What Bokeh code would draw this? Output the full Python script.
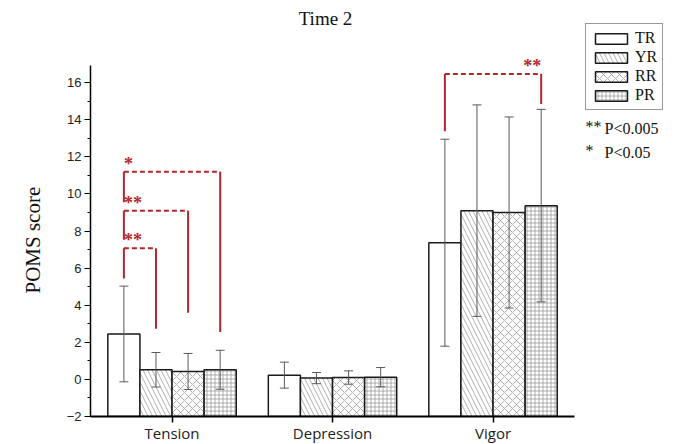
import numpy as np
from bokeh.plotting import figure
from bokeh.models import (ColumnDataSource, Range1d, FixedTicker, Title,
                          Whisker, TeeHead, Legend, LegendItem, LabelSet, Label)
from bokeh.embed import file_html
from bokeh.resources import INLINE

# ---------------- data ----------------
title_text = "Time 2"
y_label = "POMS score"
categories = ["Tension", "Depression", "Vigor"]
groups = ["TR", "YR", "RR", "PR"]

tr_mean = [2.45, 0.23, 7.37]
yr_mean = [0.52, 0.07, 9.10]
rr_mean = [0.43, 0.10, 9.00]
pr_mean = [0.52, 0.12, 9.37]

tr_sd = [2.58, 0.70, 5.58]
yr_sd = [0.93, 0.30, 5.70]
rr_sd = [0.97, 0.36, 5.15]
pr_sd = [1.05, 0.52, 5.19]

y_ticks = [-2, 0, 2, 4, 6, 8, 10, 12, 14, 16]

# significance brackets (category, from group, to group, heights)
sig_category = ["Tension", "Tension", "Tension", "Vigor"]
sig_from = ["TR", "TR", "TR", "TR"]
sig_to = ["YR", "RR", "PR", "PR"]
sig_left_low = [5.44, 7.53, 9.55, 13.38]
sig_top = [7.07, 9.10, 11.20, 16.47]
sig_right_low = [2.73, 3.59, 2.55, 14.85]
sig_mark = ["**", "**", "*", "**"]
sig_mark_side = ["left", "left", "left", "right"]

note_marks = ["**", "*"]
note_texts = ["P<0.005", "P<0.05"]

# ---------------- styling ----------------
means = [tr_mean, yr_mean, rr_mean, pr_mean]
sds = [tr_sd, yr_sd, rr_sd, pr_sd]
offsets = [-0.3, -0.1, 0.1, 0.3]
bar_w = 0.2
hatches = [None, "\\", "x", "+"]
hatch_scales = [9, 9, 8, 4]
RED = "#b3262c"
SERIF = "Liberation Serif"
Y_TOP = 16.93
X_AXIS_END = 2.51

p = figure(frame_width=579, frame_height=416, output_backend="svg", toolbar_location=None,
           x_range=Range1d(-0.508, 3.0995), y_range=Range1d(-2, 20.43),
           min_border_left=90, min_border_right=8, min_border_top=0, min_border_bottom=28)
p.outline_line_color = None
p.xgrid.visible = False
p.ygrid.visible = False

p.add_layout(Label(x=235, y=398, x_units="screen", y_units="screen", text=title_text,
                   text_font=SERIF, text_font_size="19px", text_align="center",
                   text_baseline="middle", text_color="#111111"))

cat_idx = np.arange(len(categories))
bar_renderers = []
for g, m, s, off, h, hs in zip(groups, means, sds, offsets, hatches, hatch_scales):
    m = np.array(m)
    s = np.array(s)
    src = ColumnDataSource(dict(x=cat_idx + off, top=m, upper=m + s, lower=m - s))
    kw = dict(fill_color="white", line_color="#1a1a1a", line_width=1.5)
    if h is not None:
        kw.update(hatch_pattern=h, hatch_color="#9a9a9a", hatch_scale=hs, hatch_weight=0.8)
    r = p.vbar(x="x", top="top", bottom=-2, width=bar_w, source=src, **kw)
    bar_renderers.append(r)
    w = Whisker(base="x", upper="upper", lower="lower", source=src,
                line_color="#5a5a5a", line_width=1, level="overlay")
    w.upper_head = TeeHead(size=9, line_color="#5a5a5a", line_width=1)
    w.lower_head = TeeHead(size=9, line_color="#5a5a5a", line_width=1)
    p.add_layout(w)

# brackets
gpos = {g: o for g, o in zip(groups, offsets)}
cpos = {c: i for i, c in enumerate(categories)}
xl = [cpos[c] + gpos[a] for c, a in zip(sig_category, sig_from)]
xr = [cpos[c] + gpos[b] for c, b in zip(sig_category, sig_to)]
bsrc = ColumnDataSource(dict(xl=xl, xr=xr, ll=sig_left_low, top=sig_top, rl=sig_right_low))
p.segment(x0="xl", y0="ll", x1="xl", y1="top", source=bsrc, line_color=RED, line_width=2)
p.segment(x0="xr", y0="rl", x1="xr", y1="top", source=bsrc, line_color=RED, line_width=2)
p.segment(x0="xl", y0="top", x1="xr", y1="top", source=bsrc, line_color=RED, line_width=2,
          line_dash="5 3")

mx = [a if side == "left" else b for a, b, side in zip(xl, xr, sig_mark_side)]
msrc = ColumnDataSource(dict(x=mx, y=sig_top, t=sig_mark, align=sig_mark_side))
marks = LabelSet(x="x", y="y", text="t", source=msrc, text_align="align", text_baseline="bottom",
                 y_offset=-2, text_color=RED, text_font=SERIF, text_font_size="18px",
                 text_font_style="bold")
p.add_layout(marks)

# axes
p.xaxis.bounds = (-0.508, X_AXIS_END)
p.xaxis.ticker = FixedTicker(ticks=list(cat_idx))
p.xaxis.major_label_overrides = {i: c for i, c in enumerate(categories)}
p.xaxis.minor_tick_line_color = None
p.xaxis.major_tick_out = 6
p.xaxis.major_tick_in = 0
p.xaxis.axis_line_width = 2
p.xaxis.major_tick_line_width = 1.5
p.xaxis.major_label_text_font = "Open Sans"
p.xaxis.major_label_text_font_size = "15px"
p.xaxis.major_label_text_color = "#222222"
p.xaxis.major_label_standoff = 0

p.yaxis.bounds = (-2, Y_TOP)
p.yaxis.ticker = FixedTicker(ticks=y_ticks, minor_ticks=list(range(-2, 17)))
p.yaxis.major_tick_out = 6
p.yaxis.major_tick_in = 0
p.yaxis.minor_tick_out = 3
p.yaxis.minor_tick_in = 0
p.yaxis.axis_line_width = 1.5
p.yaxis.major_label_text_font = "Liberation Sans"
p.yaxis.major_label_text_font_size = "13px"
p.yaxis.major_label_text_color = "#222222"
p.yaxis.major_label_standoff = 3

ytitle = Title(text=y_label, align="left", offset=123, standoff=37,
               text_font=SERIF, text_font_size="21px", text_font_style="normal",
               text_color="#111111")
p.add_layout(ytitle, "left")

# legend
legend = Legend(items=[LegendItem(label=g, renderers=[r]) for g, r in zip(groups, bar_renderers)],
                location=(495, 306), orientation="vertical",
                border_line_color="#333333", border_line_width=1,
                background_fill_color="white", background_fill_alpha=1,
                label_text_font=SERIF, label_text_font_size="16px", label_text_color="#111111",
                glyph_width=40, glyph_height=13, label_height=13, spacing=1,
                padding=5, margin=0, label_standoff=4)
p.add_layout(legend)

for i, (mk, tx) in enumerate(zip(note_marks, note_texts)):
    p.add_layout(Label(x=495, y=290 - 24 * i, x_units="screen", y_units="screen", text=mk,
                       text_font=SERIF, text_font_size="16px", text_baseline="middle",
                       text_color="#111111"))
    p.add_layout(Label(x=514, y=288 - 24 * i, x_units="screen", y_units="screen", text=tx,
                       text_font=SERIF, text_font_size="16px", text_baseline="middle",
                       text_color="#111111"))

open("out.html", "w").write(file_html(p, INLINE))
